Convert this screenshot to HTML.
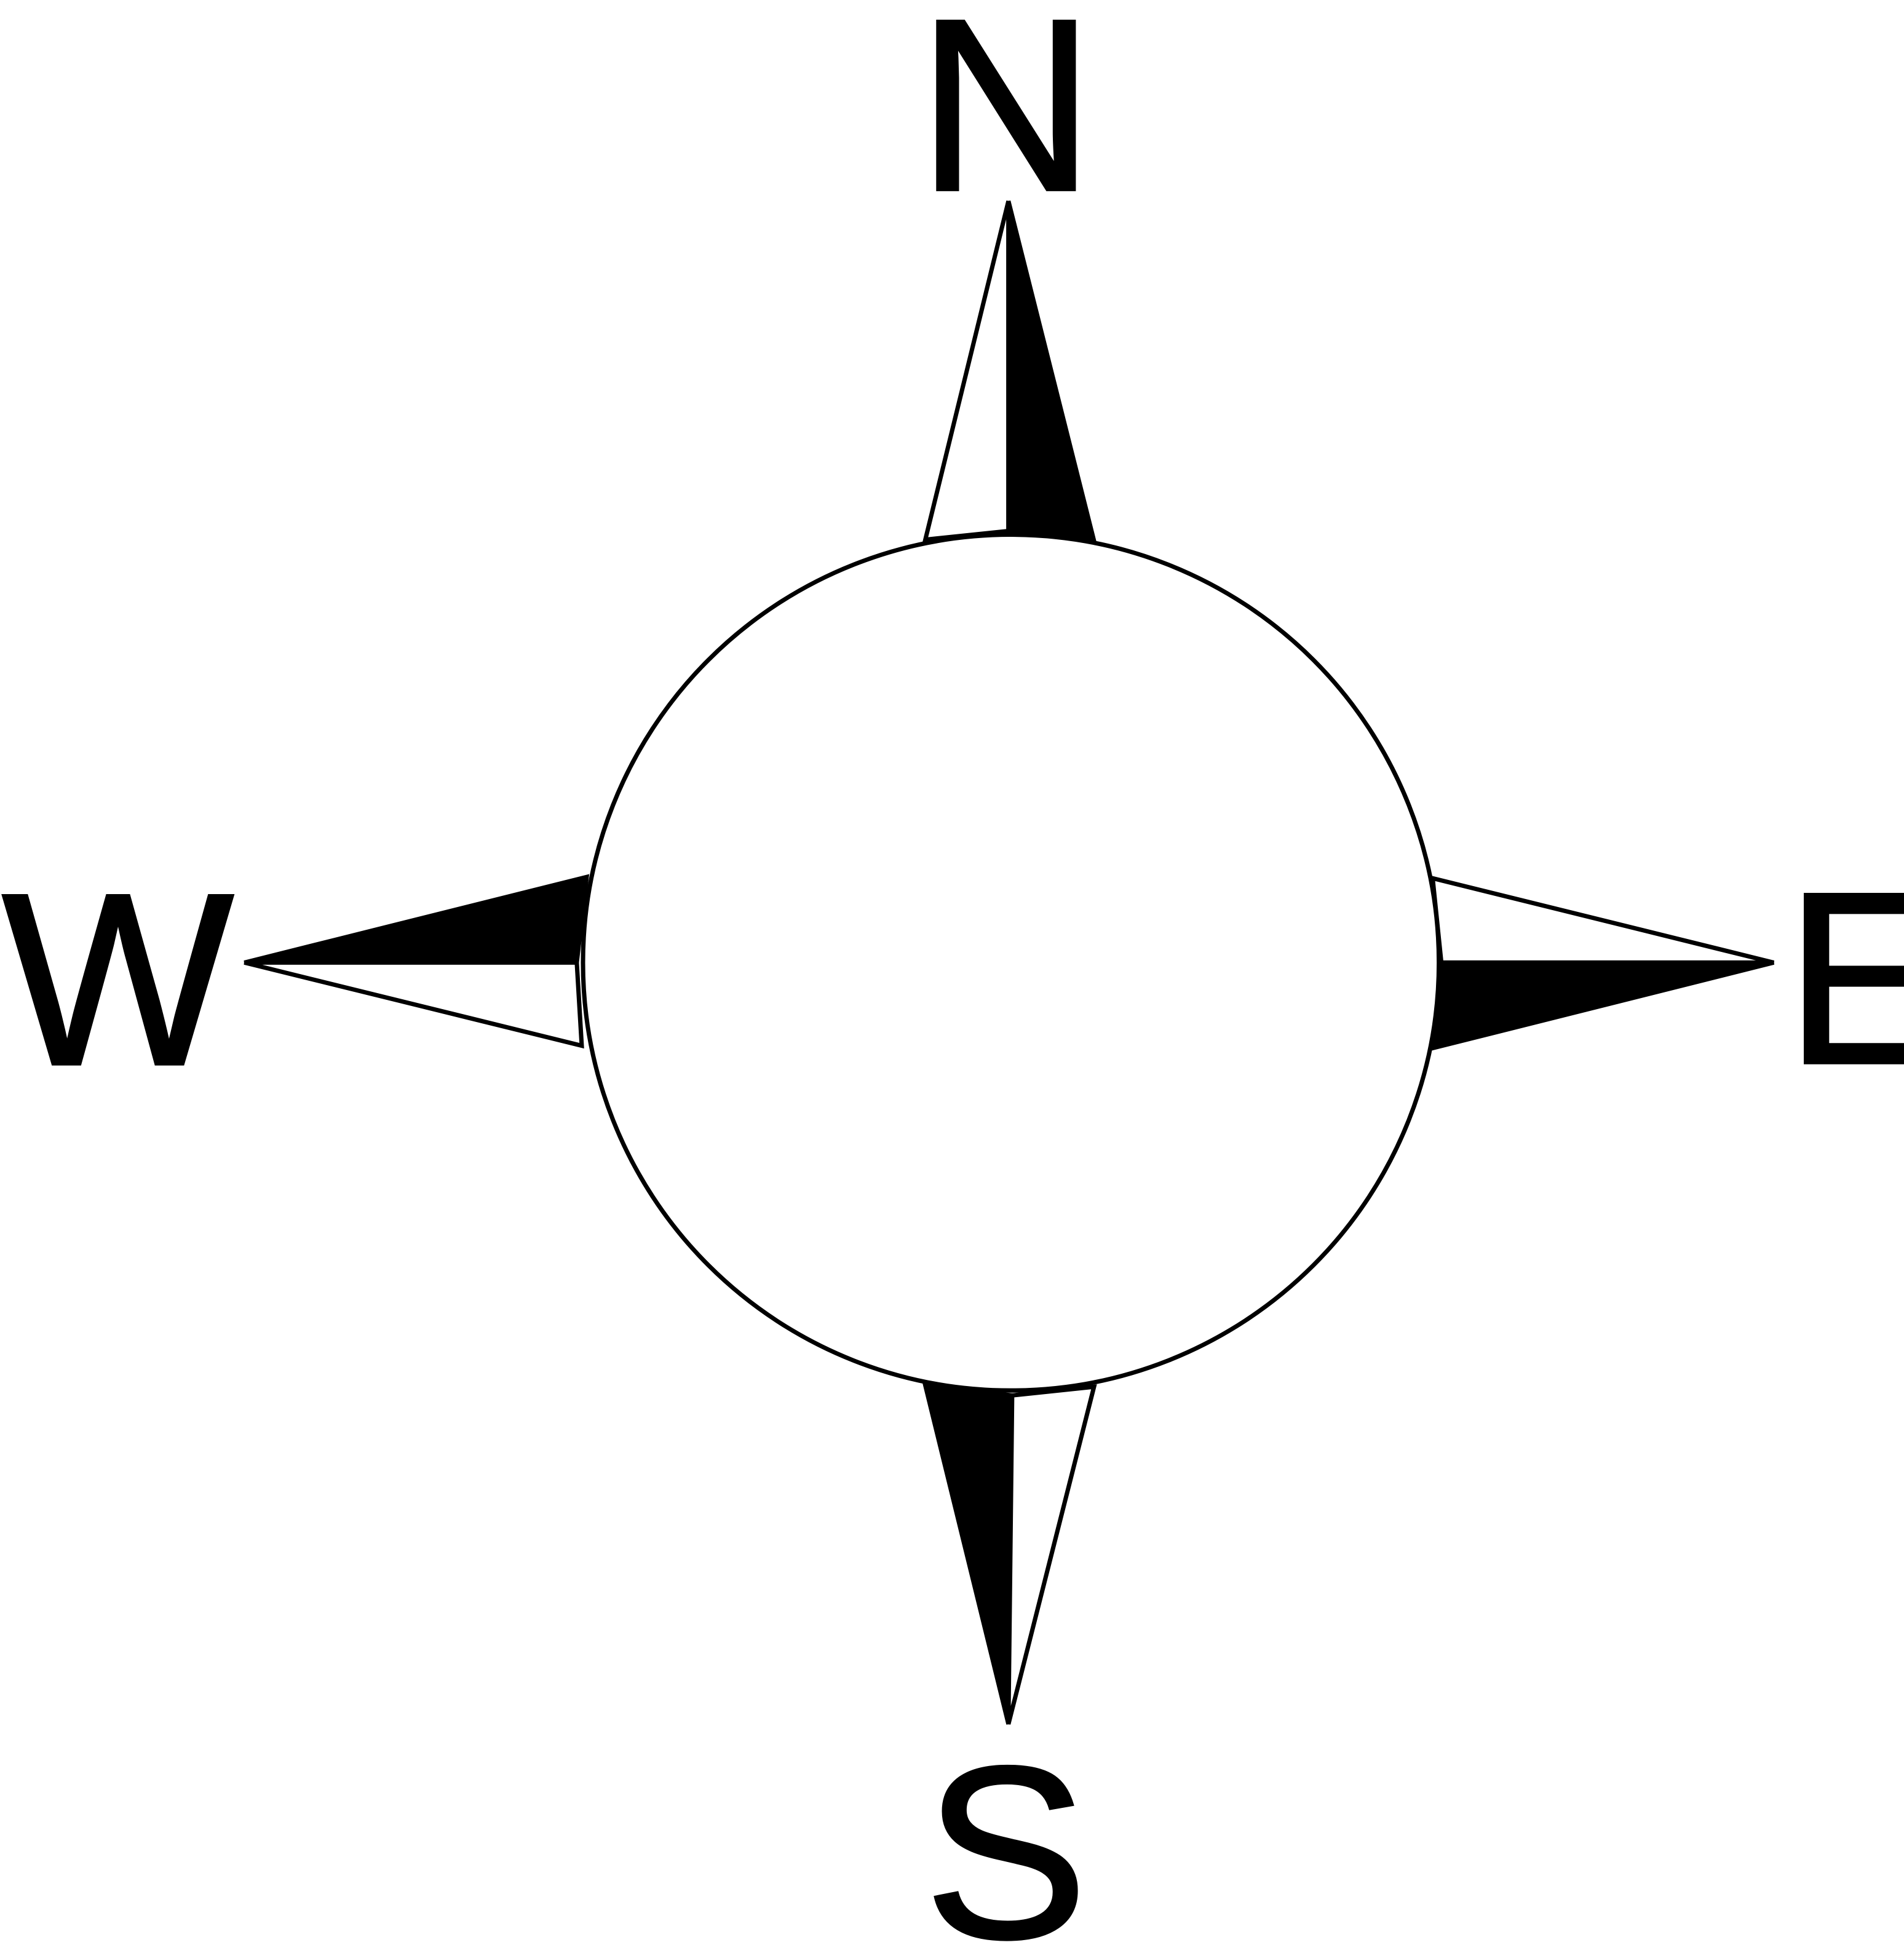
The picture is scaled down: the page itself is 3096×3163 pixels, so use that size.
<!DOCTYPE html>
<html><head><meta charset="utf-8"><style>
html,body{margin:0;padding:0;background:#fff;}
svg{display:block;}
</style></head><body>
<svg width="3096" height="3163" viewBox="0 0 1535 1568" xmlns="http://www.w3.org/2000/svg">
<rect width="1535" height="1568" fill="#fff"/>
<g stroke="#000" stroke-width="3.5" stroke-linejoin="miter">
  <polygon points="813,162 746,435 813,428" fill="#fff"/>
  <polygon points="813,162 882,436 813,428" fill="#000"/>
  <polygon points="813,1390 746,1117 816,1125" fill="#000"/>
  <polygon points="813,1390 882,1118 816,1125" fill="#fff"/>
  <polygon points="197,776 473,707 465,776" fill="#000"/>
  <polygon points="197,776 469,843 465,776" fill="#fff"/>
  <polygon points="1430,776 1155,708 1162,776" fill="#fff"/>
  <polygon points="1430,776 1155,845 1162,776" fill="#000"/>
  <circle cx="815" cy="776" r="345" fill="#fff"/>
</g>
<g font-family="'Liberation Sans', sans-serif" font-size="198" fill="#000" stroke="#000" stroke-width="2" text-anchor="middle">
  <text x="811" y="153">N</text>
  <text x="95" y="858">W</text>
  <text x="1505" y="857">E</text>
  <text x="811" y="1562">S</text>
</g>
</svg>
</body></html>
